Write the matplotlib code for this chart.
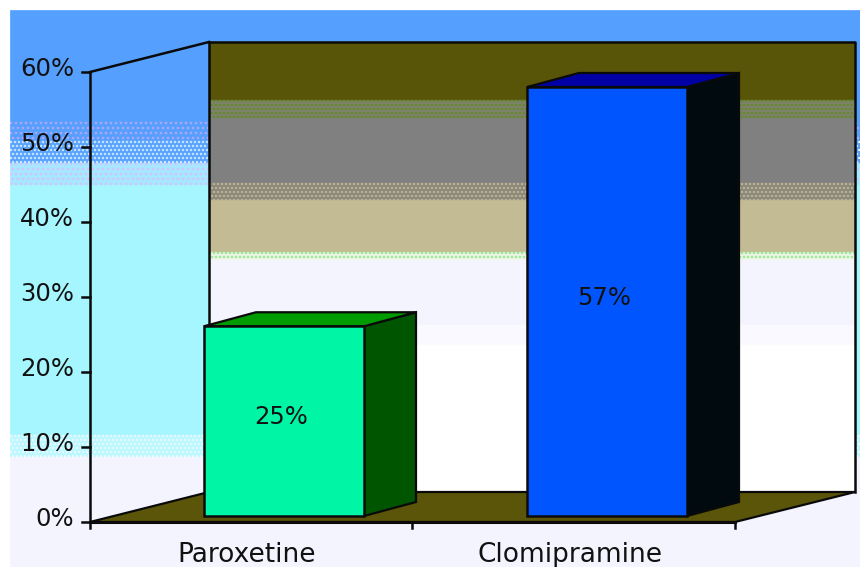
import matplotlib
matplotlib.use('Agg')
import matplotlib.pyplot as plt
import numpy as np
from matplotlib.patches import Polygon

categories = ['Paroxetine', 'Clomipramine']
bar_heights = [25.3, 57.2]
bar_labels = ['25%', '57%']
tick_values = [0, 10, 20, 30, 40, 50, 60]
tick_labels = ['0%', '10%', '20%', '30%', '40%', '50%', '60%']

W, H = 860, 567
PX = 7.5             # pixels per percent
Y0 = 522             # pixel row of 0% on the front plane


def val(row):
    return (Y0 - row) / PX


# backdrop with the washed out dithered bands, built row by row
def band(img, r0, r1, col, x0=0, x1=W):
    img[r0:r1, x0:x1] = np.array(matplotlib.colors.to_rgb(col))


def dots(img, r0, r1, col, x0=0, x1=W, step=5, rstep=5):
    c = np.array(matplotlib.colors.to_rgb(col))
    for i, r in enumerate(range(r0, r1, rstep)):
        off = (i % 2) * (step // 2)
        img[r:r + 2, x0 + off:x1:step] = c
        img[r:r + 2, x0 + off + 1:x1:step] = c


img = np.ones((H, W, 3))
band(img, 10, 122, '#55a0ff', x0=10)
band(img, 122, 163, '#55a0ff', x0=10)
dots(img, 122, 140, '#d0a8f4', x0=10)
dots(img, 141, 163, '#e8fbff', x0=10, step=4, rstep=4)
band(img, 163, 185, '#a5e8ff', x0=10)
dots(img, 163, 185, '#e0b8f8', x0=10)
band(img, 185, 435, '#a5f7ff', x0=10)
band(img, 435, 457, '#b8f8ff', x0=10)
dots(img, 435, 457, '#f8f8ff', x0=10, step=4, rstep=4)
band(img, 457, H, '#f5f5ff', x0=10)

# back wall
wx0, wx1 = 209, 855
band(img, 42, 100, '#5a5508', wx0, wx1)
band(img, 100, 118, '#808070', wx0, wx1)
dots(img, 100, 118, '#5a9010', wx0, wx1, step=4, rstep=4)
band(img, 118, 183, '#808080', wx0, wx1)
band(img, 183, 200, '#8a8678', wx0, wx1)
dots(img, 183, 200, '#c8c2a0', wx0, wx1, step=4, rstep=4)
band(img, 200, 252, '#c2bb95', wx0, wx1)
band(img, 252, 260, '#f0f4e8', wx0, wx1)
dots(img, 252, 260, '#80e880', wx0, wx1, step=4, rstep=4)
band(img, 260, 325, '#f5f5ff', wx0, wx1)
band(img, 325, 345, '#fafaff', wx0, wx1)
band(img, 345, 492, '#ffffff', wx0, wx1)

# the source is an upscaled gif, soften it a little
k = np.array([0.15, 0.7, 0.15])
blur = np.apply_along_axis(lambda a: np.convolve(a, k, mode='same'), 0, img)
blur = np.apply_along_axis(lambda a: np.convolve(a, k, mode='same'), 1, blur)
blur[:10, :] = 1
blur[:, :10] = 1
blur = np.clip(blur, 0, 1)
blur[H - 1, :] = img[H - 1, :]
blur[:, W - 1] = img[:, W - 1]

fig = plt.figure(figsize=(8.6, 5.67), dpi=100)
ax = fig.add_axes([0, 0, 1, 1])
ax.imshow(blur, extent=(0, W, val(H), val(0)), aspect='auto', interpolation='nearest', zorder=0)
ax.set_xlim(0, W)
ax.set_ylim(val(H), val(0))
ax.axis('off')

LINE = '#0a0a0a'
# 3D depth of the plot box, in x pixels and percent
dx, dy = 119, 30 / PX
x_left, x_right = 90, 735

# floor
ax.add_patch(Polygon([(x_left, 0), (x_left + dx, dy), (x_right + dx + 1, dy), (x_right, 0)],
                     fc='#5a5508', ec=LINE, lw=1.6, zorder=2))
# walls
ax.plot([x_left, x_left + dx], [60, 60 + dy], color=LINE, lw=1.8, zorder=3)
ax.plot([x_left + dx, x_right + dx + 1, x_right + dx + 1], [60 + dy, 60 + dy, dy], color=LINE, lw=1.8, zorder=3)
ax.plot([x_left + dx, x_left + dx], [dy, 60 + dy], color=LINE, lw=1.8, zorder=3)
ax.plot([x_left, x_left], [0, 60], color=LINE, lw=1.8, zorder=3)
ax.plot([x_left, x_right], [0, 0], color=LINE, lw=2.2, zorder=3)

# ticks
for v, lab in zip(tick_values, tick_labels):
    ax.plot([x_left - 8, x_left], [v, v], color=LINE, lw=1.8, zorder=3)
    ax.text(74, v + 0.45, lab, ha='right', va='center', fontsize=17.5, color='#111111', family='DejaVu Sans', zorder=5)
for xt in (x_left, 412, x_right):
    ax.plot([xt, xt], [0, -6 / PX], color=LINE, lw=1.8, zorder=3)

# bars
bar_x = [204, 527]
bar_w = 160
base = 6 / PX
bdx, bdy = 52, 14 / PX
front_cols = ['#00f5a5', '#0055ff']
top_cols = ['#009b00', '#0000a5']
side_cols = ['#005500', '#000a0f']
for x, h, lab, fc, tc, sc in zip(bar_x, bar_heights, bar_labels, front_cols, top_cols, side_cols):
    top = base + h
    ax.add_patch(Polygon([(x + bar_w, base), (x + bar_w + bdx, base + bdy), (x + bar_w + bdx, top + bdy), (x + bar_w, top)],
                         fc=sc, ec=LINE, lw=1.6, zorder=4))
    ax.add_patch(Polygon([(x, top), (x + bdx, top + bdy), (x + bar_w + bdx, top + bdy), (x + bar_w, top)],
                         fc=tc, ec=LINE, lw=1.6, zorder=4))
    ax.add_patch(Polygon([(x, base), (x, top), (x + bar_w, top), (x + bar_w, base)],
                         fc=fc, ec=LINE, lw=1.8, zorder=4))
    ax.text(x + bar_w / 2 - 3, base + h / 2 + 0.5, lab, ha='center', va='center', fontsize=17.5, color='#111111',
            family='DejaVu Sans', zorder=5)

# category labels
for xc, cat in zip([247, 570], categories):
    ax.text(xc, val(555), cat, ha='center', va='center', fontsize=19, color='#111111', family='DejaVu Sans', zorder=5)

fig.savefig('out.png', dpi=100)
